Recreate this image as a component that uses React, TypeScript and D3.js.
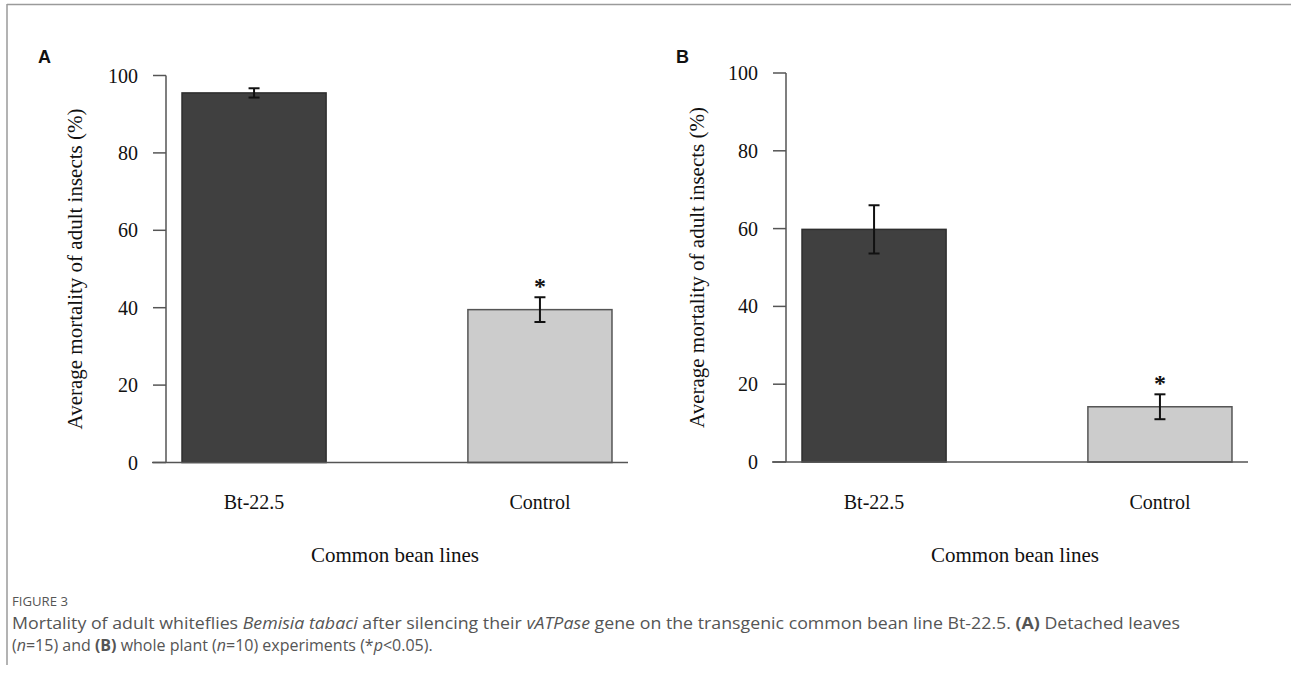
import React from "react";
import * as d3 from "d3";

const categories = ["Bt-22.5", "Control"];
const meanA = [95.5, 39.5];
const errA = [1.2, 3.2];
const meanB = [59.8, 14.2];
const errB = [6.2, 3.2];
const significant = [false, true];
const yTicks = [0, 20, 40, 60, 80, 100];
const barColors = ["#404040", "#cccccc"];
const barStrokes = ["#2e2e2e", "#555555"];

const SERIF = "'Liberation Serif', 'Times New Roman', serif";
const SANS = "'Open Sans', 'Noto Sans', sans-serif";

type PanelProps = {
  label: string;
  dx: number;
  y0: number;
  y100: number;
  means: number[];
  errs: number[];
  titleX: number;
  labelX: number;
};

function Panel({ label, dx, y0, y100, means, errs, titleX, labelX }: PanelProps) {
  const axisX = 166 + dx;
  const x = d3
    .scaleBand<string>()
    .domain(categories)
    .range([166 + dx, 628 + dx])
    .paddingInner(0.496)
    .paddingOuter(0.056);
  const y = d3.scaleLinear().domain([0, 100]).range([y0, y100]);
  const axisColor = "#555";
  return (
    <g>
      <text x={labelX} y={63} fontFamily="'Liberation Sans', Arial, sans-serif" fontWeight="bold" fontSize={18} fill="#111">
        {label}
      </text>
      {categories.map((c, i) => (
        <rect
          key={c}
          x={x(c)}
          y={y(means[i])}
          width={x.bandwidth()}
          height={y(0) - y(means[i])}
          fill={barColors[i]}
          stroke={barStrokes[i]}
          strokeWidth={1.5}
        />
      ))}
      {categories.map((c, i) => {
        const cx = (x(c) as number) + x.bandwidth() / 2;
        const top = y(means[i] + errs[i]);
        const bot = y(means[i] - errs[i]);
        return (
          <g key={"e" + c} stroke="#111" strokeWidth={2}>
            <line x1={cx} x2={cx} y1={top} y2={bot} />
            <line x1={cx - 5.5} x2={cx + 5.5} y1={top} y2={top} />
            <line x1={cx - 5.5} x2={cx + 5.5} y1={bot} y2={bot} />
          </g>
        );
      })}
      {categories.map((c, i) =>
        significant[i] ? (
          <text
            key={"s" + c}
            x={(x(c) as number) + x.bandwidth() / 2}
            y={y(means[i] + errs[i]) - 3}
            textAnchor="middle"
            fontFamily={SERIF}
            fontWeight="bold"
            fontSize={24}
            fill="#111"
          >
            *
          </text>
        ) : null
      )}
      <line x1={axisX} x2={axisX} y1={y(100)} y2={y(0)} stroke={axisColor} strokeWidth={1.5} />
      {yTicks.map((t) => (
        <g key={t}>
          <line x1={axisX - 13} x2={axisX} y1={y(t)} y2={y(t)} stroke={axisColor} strokeWidth={1.5} />
          <text
            x={axisX - 28}
            y={y(t)}
            dy="0.35em"
            textAnchor="end"
            fontFamily={SERIF}
            fontSize={20}
            fill="#111"
          >
            {t}
          </text>
        </g>
      ))}
      <line x1={axisX - 14} x2={628 + dx} y1={y(0)} y2={y(0)} stroke={axisColor} strokeWidth={1.5} />
      {categories.map((c) => (
        <text
          key={"l" + c}
          x={(x(c) as number) + x.bandwidth() / 2}
          y={509}
          textAnchor="middle"
          fontFamily={SERIF}
          fontSize={20}
          fill="#111"
        >
          {c}
        </text>
      ))}
      <text x={395 + dx} y={562} textAnchor="middle" fontFamily={SERIF} fontSize={21} fill="#111">
        Common bean lines
      </text>
      <text
        transform={`translate(${titleX},${(y(0) + y(100)) / 2}) rotate(-90)`}
        textAnchor="middle"
        fontFamily={SERIF}
        fontSize={21}
        fill="#111"
      >
        Average mortality of adult insects (%)
      </text>
    </g>
  );
}

export default function App() {
  return (
    <svg
      width={1291}
      height={683}
      style={{ position: "absolute", left: 0, top: 0, background: "#fff" }}
    >
      <rect x={0} y={0} width={1291} height={683} fill="#fff" />
      <line x1={7} x2={1291} y1={4.5} y2={4.5} stroke="#9a9a9a" strokeWidth={1.5} />
      <line x1={7} x2={7} y1={4} y2={665} stroke="#9a9a9a" strokeWidth={1.5} />
      <Panel label="A" dx={0} y0={462.5} y100={75.5} means={meanA} errs={errA} titleX={82} labelX={38} />
      <Panel label="B" dx={620} y0={462} y100={73} means={meanB} errs={errB} titleX={704} labelX={676} />
      <text x={12} y={606} fontFamily={SANS} fontSize={13} fill="#555" textLength={56} lengthAdjust="spacingAndGlyphs">
        FIGURE 3
      </text>
      <text x={12} y={629} fontFamily={SANS} fontSize={16.5} fill="#555" textLength={1168} lengthAdjust="spacingAndGlyphs">
        Mortality of adult whiteflies <tspan fontStyle="italic">Bemisia tabaci</tspan> after silencing their{" "}
        <tspan fontStyle="italic">vATPase</tspan> gene on the transgenic common bean line Bt-22.5.{" "}
        <tspan fontWeight="bold">(A)</tspan> Detached leaves
      </text>
      <text x={12} y={651} fontFamily={SANS} fontSize={16} fill="#555">
        (<tspan fontStyle="italic">n</tspan>=15) and <tspan fontWeight="bold">(B)</tspan> whole plant (<tspan fontStyle="italic">n</tspan>=10) experiments (*<tspan fontStyle="italic">p</tspan>&lt;0.05).
      </text>
    </svg>
  );
}
